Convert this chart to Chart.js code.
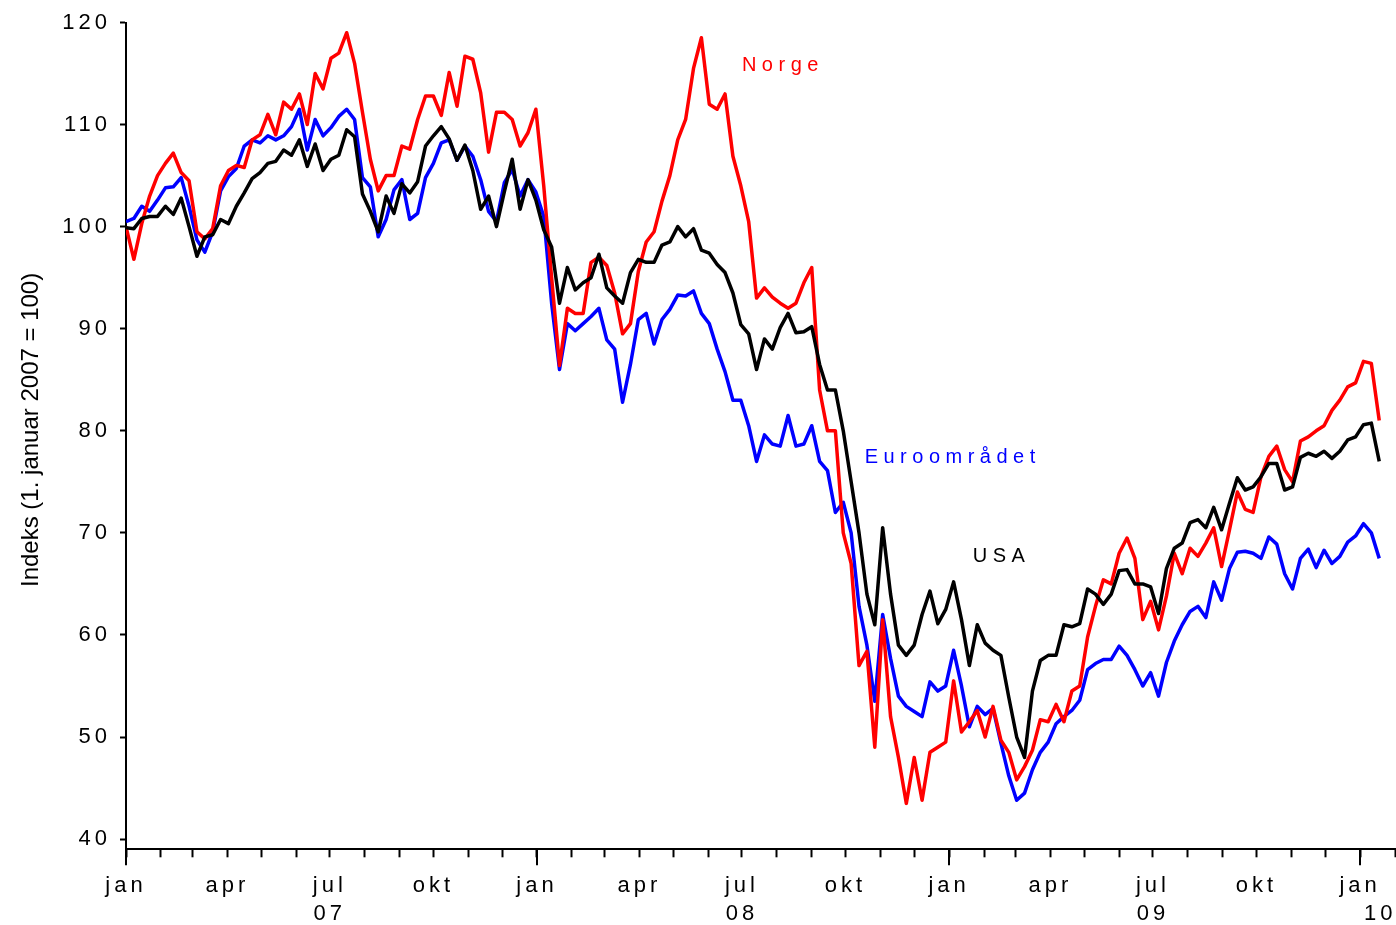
<!DOCTYPE HTML>
<html lang="no">
<head>
<meta charset="utf-8" />
<title>Aksjeindekser 2007–2010</title>
<script src="https://cdn.jsdelivr.net/npm/chart.js@4.4.1/dist/chart.umd.min.js"></script>
<style>
	html, body { margin: 0; padding: 0; background: #ffffff; }
	#wrap { width: 1396px; height: 925px; }
</style>
</head>
<body>
<div id="wrap"><canvas id="indexChart" width="1396" height="925"></canvas></div>
<script>
// Weekly closing levels, index 1. januar 2007 = 100
const STEP_DAYS = 7;

const norge = [
	100, 96.8, 100.3, 103, 105, 106.2, 107.2, 105.3, 104.5, 99.5,
	98.8, 99.8, 104, 105.5, 106, 105.8, 108.5, 109, 111, 109,
	112.2, 111.5, 113, 110, 115, 113.5, 116.5, 117, 119, 116,
	111.2, 106.6, 103.5, 105, 105, 107.9, 107.6, 110.5, 112.8, 112.8,
	110.9, 115.1, 111.8, 116.7, 116.4, 113.1, 107.3, 111.2, 111.2, 110.5,
	107.9, 109.2, 111.5, 104, 95, 86.4, 92, 91.5, 91.5, 96.5,
	97, 96.2, 93.5, 89.5, 90.5, 95.6, 98.5, 99.5, 102.5, 105,
	108.5, 110.5, 115.5, 118.5, 112, 111.5, 113, 106.9, 104, 100.5,
	93, 94, 93.1, 92.5, 92, 92.5, 94.5, 96, 84, 80,
	80, 70, 67, 57, 58.4, 49, 61.5, 52, 48, 43.5,
	48, 43.8, 48.5, 49, 49.5, 55.5, 50.5, 51.5, 52.6, 50,
	53, 49.7, 48.5, 45.8, 47.1, 48.7, 51.7, 51.5, 53.2, 51.5,
	54.5, 55, 59.8, 62.8, 65.4, 65, 68, 69.5, 67.5, 61.5,
	63.3, 60.5, 63.8, 68, 66, 68.5, 67.7, 69, 70.5, 66.7,
	70.3, 74, 72.3, 72, 75.5, 77.5, 78.5, 76.2, 75, 79,
	79.4, 80, 80.5, 82, 83, 84.3, 84.7, 86.8, 86.6, 81
];

const euroomradet = [
	100.5, 100.8, 102, 101.5, 102.6, 103.8, 103.9, 104.8, 102, 98.7,
	97.5, 99.5, 103.5, 104.9, 105.7, 107.9, 108.5, 108.2, 108.9, 108.5,
	108.9, 109.8, 111.5, 107.5, 110.5, 108.9, 109.7, 110.8, 111.5, 110.5,
	104.8, 103.9, 99, 100.7, 103.6, 104.6, 100.7, 101.3, 104.8, 106.2,
	108.2, 108.5, 106.5, 107.9, 106.9, 104.6, 101.5, 100.5, 104.3, 105.6,
	103, 104.6, 103.4, 101, 92.5, 86, 90.5, 89.8, 90.5, 91.2,
	92, 88.9, 88, 82.8, 86.5, 90.9, 91.5, 88.5, 90.9, 91.9,
	93.3, 93.2, 93.7, 91.5, 90.5, 88, 85.8, 83, 83, 80.5,
	77, 79.6, 78.7, 78.5, 81.5, 78.5, 78.7, 80.5, 77, 76.1,
	72, 73, 70, 62.8, 59, 53.5, 62, 57.7, 54, 53,
	52.5, 52, 55.4, 54.5, 55, 58.5, 55, 51, 53, 52.2,
	52.8, 49.4, 46.2, 43.8, 44.5, 46.8, 48.5, 49.5, 51.3, 52,
	52.6, 53.6, 56.6, 57.2, 57.6, 57.6, 58.9, 58, 56.6, 55,
	56.3, 54, 57.3, 59.4, 61, 62.3, 62.8, 61.7, 65.2, 63.4,
	66.5, 68.1, 68.2, 68, 67.5, 69.6, 68.9, 66, 64.5, 67.5,
	68.4, 66.6, 68.3, 67, 67.7, 69.1, 69.7, 70.9, 70, 67.5
];

const usa = [
	99.9, 99.8, 100.8, 101, 101, 102, 101.2, 102.8, 100, 97.1,
	99, 99.2, 100.7, 100.3, 102, 103.3, 104.7, 105.3, 106.2, 106.4,
	107.5, 107, 108.5, 105.9, 108.1, 105.5, 106.6, 107, 109.5, 108.8,
	103.2, 101.5, 99.5, 103, 101.3, 104.2, 103.3, 104.4, 107.9, 108.9,
	109.8, 108.6, 106.5, 108, 105.5, 101.7, 103, 100, 103.4, 106.6,
	101.7, 104.6, 102.6, 99.7, 98, 92.5, 96, 93.8, 94.5, 95,
	97.3, 94, 93.2, 92.5, 95.5, 96.8, 96.5, 96.5, 98.2, 98.5,
	100, 99, 99.8, 97.7, 97.4, 96.3, 95.5, 93.5, 90.4, 89.5,
	86, 89, 88, 90.1, 91.5, 89.6, 89.7, 90.2, 86.5, 84,
	84, 80, 75, 70, 64, 61, 70.5, 64, 59, 58,
	59, 62, 64.3, 61.1, 62.5, 65.2, 61.5, 57, 61, 59.2,
	58.5, 58, 53.9, 50, 48, 54.5, 57.5, 58, 58, 61,
	60.8, 61.1, 64.5, 64, 63, 64, 66.3, 66.4, 65, 65,
	64.7, 62.1, 66.5, 68.5, 69, 71, 71.3, 70.5, 72.5, 70.3,
	72.9, 75.4, 74.2, 74.5, 75.5, 76.8, 76.8, 74.2, 74.5, 77.4,
	77.8, 77.5, 78, 77.3, 78, 79.1, 79.4, 80.6, 80.75, 77
];

// Month starts, days after 1 January 2007
const monthDays = [
	0, 31, 59, 90, 120, 151, 181, 212, 243, 273, 304, 334,
	365, 396, 425, 456, 486, 517, 547, 578, 609, 639, 670, 700,
	731, 762, 790, 821, 851, 882, 912, 943, 974, 1004, 1035, 1065,
	1096, 1127
];
const monthNames = ['jan', '', '', 'apr', '', '', 'jul', '', '', 'okt', '', ''];
const yearLabels = { 6: '07', 18: '08', 30: '09', 36: '    10' };
const yearStartDays = [0, 365, 731, 1096];
const yTicks = [40, 50, 60, 70, 80, 90, 100, 110, 120];

const FONT = '"Liberation Sans", Arial, Helvetica, sans-serif';

const seriesNames = [
	{ text: 'Norge', day: 547, value: 115.8, color: '#ff0000' },
	{ text: 'Euroområdet', day: 656, value: 77.4, color: '#0000ff' },
	{ text: 'USA', day: 752, value: 67.7, color: '#000000' }
];

function toPoints(values) {
	return values.map((v, i) => ({ x: i * STEP_DAYS, y: v }));
}

const textPlugin = {
	id: 'textPlugin',
	beforeDraw(chart) {
		chart.ctx.letterSpacing = '4px';
	},
	afterDraw(chart) {
		const { ctx, scales: { x, y } } = chart;
		ctx.save();

		// longer tick marks at each new year
		ctx.strokeStyle = '#000000';
		ctx.lineWidth = 2;
		yearStartDays.forEach(d => {
			const px = Math.round(x.getPixelForValue(d));
			ctx.beginPath();
			ctx.moveTo(px, y.bottom);
			ctx.lineTo(px, y.bottom + 16);
			ctx.stroke();
		});

		// series names beside the lines
		ctx.font = '20px ' + FONT;
		ctx.letterSpacing = '5.5px';
		ctx.textAlign = 'left';
		ctx.textBaseline = 'middle';
		seriesNames.forEach(s => {
			ctx.fillStyle = s.color;
			ctx.fillText(s.text, x.getPixelForValue(s.day), y.getPixelForValue(s.value));
		});

		// y axis title
		ctx.letterSpacing = '0px';
		ctx.fillStyle = '#000000';
		ctx.font = '24px ' + FONT;
		ctx.textAlign = 'center';
		ctx.translate(31, (y.top + y.bottom) / 2 - 6);
		ctx.rotate(-Math.PI / 2);
		ctx.fillText('Indeks (1. januar 2007 = 100)', 0, 0);
		ctx.restore();
	}
};

const lineStyle = { borderWidth: 3.5, tension: 0, fill: false, borderJoinStyle: 'round', pointRadius: 0 };

new Chart(document.getElementById('indexChart'), {
	type: 'line',
	data: {
		datasets: [
			{ ...lineStyle, label: 'USA', data: toPoints(usa), borderColor: '#000000' },
			{ ...lineStyle, label: 'Norge', data: toPoints(norge), borderColor: '#ff0000' },
			{ ...lineStyle, label: 'Euroområdet', data: toPoints(euroomradet), borderColor: '#0000ff' }
		]
	},
	options: {
		responsive: false,
		animation: false,
		events: [],
		layout: { padding: { top: 22.5, right: 1, left: 0, bottom: 0 } },
		plugins: {
			legend: { display: false },
			tooltip: { enabled: false }
		},
		scales: {
			x: {
				type: 'linear',
				min: 0,
				max: 1127,
				afterBuildTicks: s => { s.ticks = monthDays.map(v => ({ value: v })); },
				afterFit: s => {
					s.height = 75.7;
					s.paddingLeft = 0;
					s.paddingRight = 0;
				},
				grid: { drawOnChartArea: false, tickLength: 8, tickWidth: 2, tickColor: '#000000' },
				border: { color: '#000000', width: 2 },
				ticks: {
					autoSkip: false,
					maxRotation: 0,
					padding: 15,
					color: '#000000',
					font: { family: FONT, size: 22, lineHeight: 1.27 },
					callback: (value, index) => {
						const name = monthNames[index % 12];
						return yearLabels[index] ? [name, yearLabels[index]] : name;
					}
				}
			},
			y: {
				min: 39,
				max: 120,
				afterBuildTicks: s => { s.ticks = yTicks.map(v => ({ value: v })); },
				afterFit: s => { s.width = 126; },
				grid: { drawOnChartArea: false, tickLength: 6, tickWidth: 2, tickColor: '#000000' },
				border: { color: '#000000', width: 2 },
				ticks: {
					padding: 9,
					color: '#000000',
					font: { family: FONT, size: 22 }
				}
			}
		}
	},
	plugins: [textPlugin]
});
</script>
</body>
</html>
